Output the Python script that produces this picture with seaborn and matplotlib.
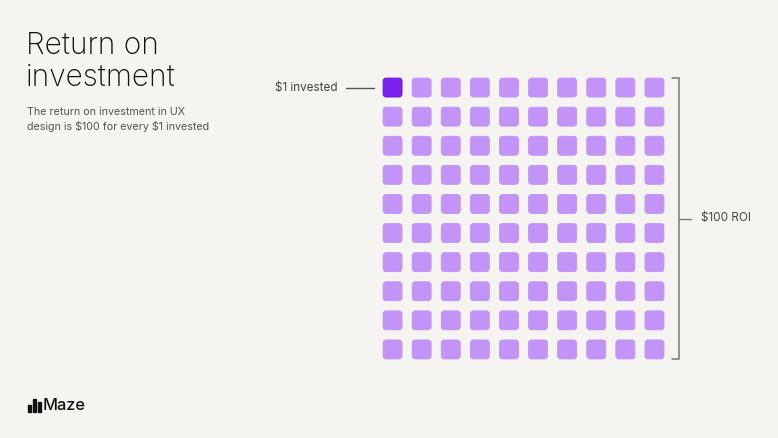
import matplotlib.pyplot as plt
import matplotlib.patches as mpatches
from matplotlib.path import Path
import numpy as np
import pandas as pd
import seaborn as sns

# data
n_rows = 10
n_cols = 10
invested_cells = 1          # $1 invested
roi_cells = 100             # $100 ROI
labels = [r"\$1 invested", r"\$100 ROI"]
title = "Return on\ninvestment"
subtitle = "The return on investment in UX\ndesign is \\$100 for every \\$1 invested"

BG = "#f5f4f0"
LIGHT = "#c394f8"
DARK = "#7b22f0"
GREY = "#555555"


def rounded_square(r=0.16, n=8):
    # closed path of a unit square with rounded corners
    pts = []
    corners = [(1 - r, 1 - r, 0), (r, 1 - r, 90), (r, r, 180), (1 - r, r, 270)]
    for cx, cy, start in corners:
        for a in np.linspace(start, start + 90, n):
            t = np.deg2rad(a)
            pts.append((cx + r * np.cos(t) - 0.5, cy + r * np.sin(t) - 0.5))
    pts.append(pts[0])
    codes = [Path.MOVETO] + [Path.LINETO] * (len(pts) - 2) + [Path.CLOSEPOLY]
    return Path(pts, codes)


idx = np.arange(roi_cells)
df = pd.DataFrame({
    "col": idx % n_cols,
    "row": idx // n_cols,
    "kind": np.where(idx < invested_cells, "invested", "return"),
})

sns.set_theme(style="white")
plt.rcParams["font.family"] = ["Inter", "DejaVu Sans"]

W, H = 778, 438
fig = plt.figure(figsize=(W / 100, H / 100), dpi=100, facecolor=BG)

# grid area in pixels
left, top, size = 378, 73, 291
ax = fig.add_axes([left / W, (H - top - size) / H, size / W, size / H])
ax.set_facecolor("none")

sns.scatterplot(
    data=df, x="col", y="row", hue="kind",
    palette={"invested": DARK, "return": LIGHT},
    marker=rounded_square(), s=(19 * 0.72) ** 2,
    linewidth=0.6, legend=False, ax=ax,
)
# darker outline on the invested cell
ax.collections[0].set_edgecolors(
    [("#6a14d8" if k == "invested" else LIGHT) for k in df["kind"]]
)

ax.set_xlim(-0.5, n_cols - 0.5)
ax.set_ylim(n_rows - 0.5, -0.5)
ax.axis("off")

# bracket on the right
half = 0.33
bx = 9.86
ax.plot([bx - 0.24, bx, bx, bx - 0.24], [-half, -half, n_rows - 1 + half, n_rows - 1 + half],
        color="#777777", lw=1.1, clip_on=False, solid_joinstyle="miter")
mid = (n_rows - 1) / 2
ax.plot([bx, bx + 0.4], [mid, mid], color="#777777", lw=1.0, clip_on=False)
ax.text(bx + 0.75, mid, labels[1], ha="left", va="center", fontsize=8.4,
        color="#444444", clip_on=False)

# $1 invested label
ax.plot([-1.6, -0.65], [0, 0], color="#555555", lw=1.0, clip_on=False)
ax.text(-1.88, 0, labels[0], ha="right", va="center", fontsize=8.4,
        color="#444444", clip_on=False)

# title and subtitle
fig.text(26 / W, 1 - 32 / H, title, ha="left", va="top", fontsize=21.5,
         color="#111111", linespacing=1.15, fontweight="light")
fig.text(27 / W, 1 - 107 / H, subtitle, ha="left", va="top", fontsize=7.7,
         color=GREY, linespacing=1.45)

# Maze logo
px = 1 / W
py = 1 / H
for x0, hgt in [(28, 7), (33, 13), (38, 10)]:
    fig.patches.append(mpatches.Rectangle((x0 * px, (H - 412) * py), 3.2 * px, hgt * py,
                                          transform=fig.transFigure, color="#111111"))
fig.text(43 / W, 1 - 405.5 / H, "Maze", ha="left", va="center", fontsize=11.8,
         color="#111111", fontweight="medium")

fig.savefig("out.png", dpi=100, facecolor=BG)
